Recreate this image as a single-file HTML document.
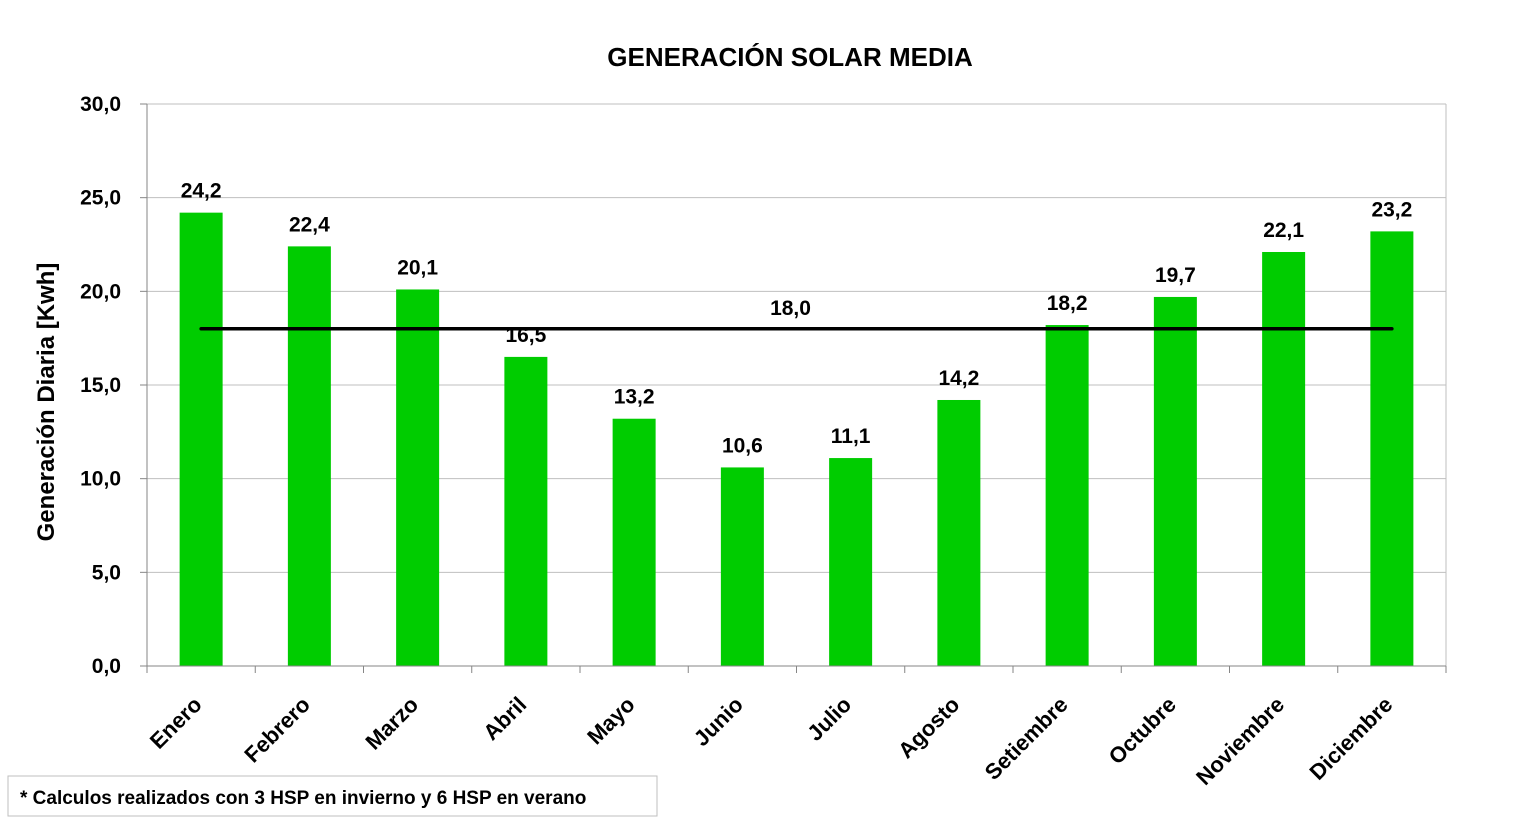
<!DOCTYPE html>
<html><head><meta charset="utf-8"><style>
body{margin:0;background:#fff;}
svg{font-family:"Liberation Sans",Arial,sans-serif;}
</style></head><body>
<svg id="chart" width="1521" height="821" xmlns="http://www.w3.org/2000/svg">
<text x="790" y="66" text-anchor="middle" font-size="26" font-weight="bold">GENERACIÓN SOLAR MEDIA</text>
<text transform="translate(54,402) rotate(-90)" text-anchor="middle" font-size="24" font-weight="bold">Generación Diaria [Kwh]</text>
<rect x="8" y="776" width="649" height="40" fill="#fff" stroke="#bfbfbf"/>
<text x="20" y="804" font-size="19" font-weight="bold">* Calculos realizados con 3 HSP en invierno y 6 HSP en verano</text>
<g id="plot"></g>
</svg>
<script>
const categories=["Enero","Febrero","Marzo","Abril","Mayo","Junio","Julio","Agosto","Setiembre","Octubre","Noviembre","Diciembre"];
const values=[24.2,22.4,20.1,16.5,13.2,10.6,11.1,14.2,18.2,19.7,22.1,23.2];
const average=[18.0];
const yTicks=[0,5,10,15,20,25,30];
const NS="http://www.w3.org/2000/svg";
const g=document.getElementById('plot');
const L=147,R=1446,T=104,B=666,yMax=30;
const bw=(R-L)/categories.length;
const y=v=>B-(v/yMax)*(B-T);
const xc=i=>L+bw*(i+0.5);
function mk(t,a,txt){const e=document.createElementNS(NS,t);for(const k in a)e.setAttribute(k,a[k]);if(txt!==undefined)e.textContent=txt;g.appendChild(e);return e;}
const fmt=v=>v.toFixed(1).replace('.',',');
yTicks.forEach(t=>{
 const l=mk('line',{x1:L,x2:R,y1:y(t),y2:y(t),stroke:'#bfbfbf','stroke-width':1});
 
 
 const tk=mk('line',{x1:L-7,x2:L,y1:y(t),y2:y(t),stroke:'#868686'});
 
 
 const tx=mk('text',{x:L-26,y:y(t)+7,'text-anchor':'end','font-size':21,'font-weight':'bold'},fmt(t));
 
 
});
const rb=mk('line',{x1:R,x2:R,y1:T,y2:B,stroke:'#bfbfbf'});


const ya=mk('line',{x1:L,x2:L,y1:T,y2:B,stroke:'#868686'});


values.forEach((v,i)=>{
 const b=mk('rect',{x:xc(i)-21.5,y:y(v),width:43,height:B-y(v),fill:'#00cc00'});
 
 
 const lb=mk('text',{x:xc(i),y:y(v)-15,'text-anchor':'middle','font-size':21,'font-weight':'bold'},fmt(v));
 
 
});
const xa=mk('line',{x1:L,x2:R,y1:B,y2:B,stroke:'#868686'});


for(let i=0;i<=categories.length;i++){
 const t=mk('line',{x1:L+bw*i,x2:L+bw*i,y1:B,y2:B+7,stroke:'#868686'});
 
 
}
categories.forEach((c,i)=>{
 const x=xc(i)+2,yy=B+40;
 const t=mk('text',{x:x,y:yy,'text-anchor':'end','font-size':22,'font-weight':'bold',transform:`rotate(-45 ${x} ${yy})`},c);
 
 
});
const al=mk('line',{x1:xc(0),x2:xc(11),y1:y(average[0]),y2:y(average[0]),stroke:'#000','stroke-width':3.5,'stroke-linecap':'round'});


const at=mk('text',{x:(xc(0)+xc(11))/2-6,y:y(average[0])-14,'text-anchor':'middle','font-size':21,'font-weight':'bold'},fmt(average[0]));


</script>
</body></html>
